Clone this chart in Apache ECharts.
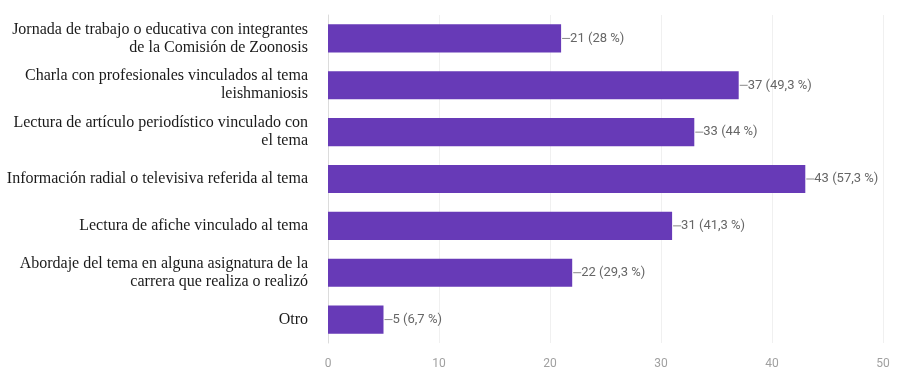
<!DOCTYPE html>
<html>
<head>
<meta charset="utf-8">
<script src="https://cdn.jsdelivr.net/npm/echarts@6/dist/echarts.min.js"></script>
<style>
  html, body { margin: 0; padding: 0; background: #fff; }
</style>
</head>
<body>
<div id="chart" style="width: 899px; height: 371px"></div>
<script>
// categorías (con salto de línea como en la imagen)
const categories = [
  "Jornada de trabajo o educativa con integrantes\nde la Comisión de Zoonosis",
  "Charla con profesionales vinculados al tema\nleishmaniosis",
  "Lectura de artículo periodístico vinculado con\nel tema",
  "Información radial o televisiva referida al tema",
  "Lectura de afiche vinculado al tema",
  "Abordaje del tema en alguna asignatura de la\ncarrera que realiza o realizó",
  "Otro"
];
const counts = [21, 37, 33, 43, 31, 22, 5];
const percents = ["28 %", "49,3 %", "44 %", "57,3 %", "41,3 %", "29,3 %", "6,7 %"];
const xTicks = [0, 10, 20, 30, 40, 50];

const chart = echarts.init(document.getElementById("chart"));

const option = {
  backgroundColor: "#fff",
  animation: false,
  grid: { left: 328, right: 16, top: 15, bottom: 28 },
  xAxis: {
    type: "value",
    min: xTicks[0],
    max: xTicks[xTicks.length - 1],
    interval: 10,
    axisLine: { show: false },
    axisTick: { show: false },
    splitLine: { lineStyle: { color: "#f0f0f0" } },
    axisLabel: {
      color: "#a0a0a0",
      fontFamily: "Roboto",
      fontSize: 12,
      margin: 15
    }
  },
  yAxis: {
    type: "category",
    inverse: true,
    data: categories,
    axisLine: { show: true, lineStyle: { color: "#dcdcdc" } },
    axisTick: { show: false },
    axisLabel: {
      color: "#1a1a1a",
      fontFamily: "Liberation Serif",
      fontSize: 16,
      lineHeight: 18,
      align: "right",
      margin: 20
    }
  },
  series: [
    {
      type: "bar",
      data: counts,
      barCategoryGap: "40%",
      itemStyle: { color: "#673ab7" },
      label: {
        show: true,
        position: "right",
        distance: 1,
        // guion corto antes del valor, como en el original
        formatter: (p) => "{l|}" + p.value + " (" + percents[p.dataIndex] + ")",
        color: "#666",
        fontFamily: "Roboto",
        fontSize: 13,
        rich: {
          l: { width: 8, height: 1, backgroundColor: "#888" }
        }
      }
    }
  ]
};

chart.setOption(option);
</script>
</body>
</html>
